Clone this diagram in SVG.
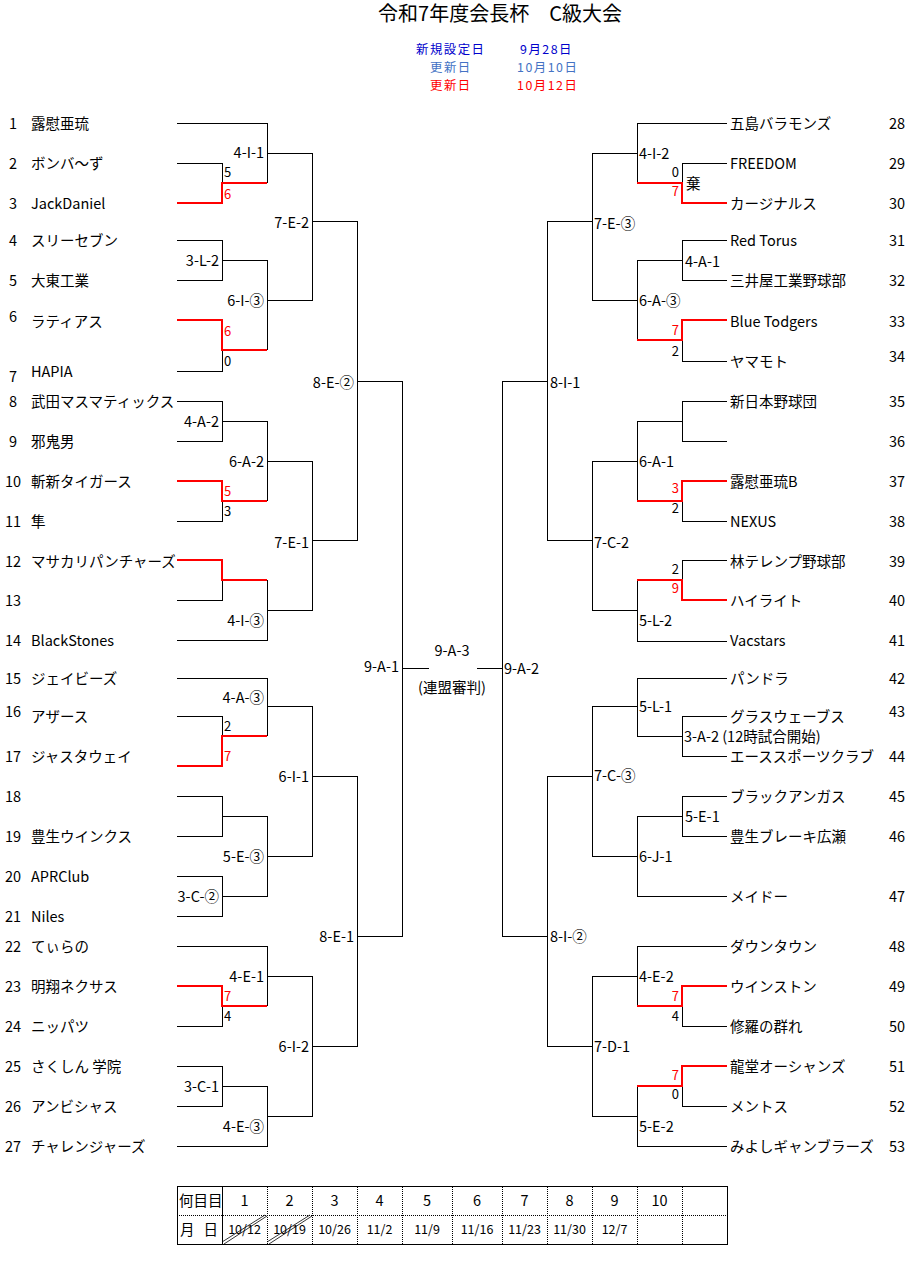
<svg xmlns="http://www.w3.org/2000/svg" width="922" height="1269" viewBox="0 0 922 1269">
<style>
text{font-family:"Noto Sans CJK JP","Noto Sans",sans-serif;font-size:14.5px;dominant-baseline:central;fill:#000;transform:translateY(-2px)}
.m{text-anchor:middle}
.e{text-anchor:end}
.red{fill:#FF0000}
.b1{fill:#0000CC}
.b2{fill:#4472C4}
.ttl{font-size:20px}
.hd{font-size:12.4px;letter-spacing:1.5px}
.dt{font-size:12.5px}
.sc{font-size:13px}
.k{fill:none;stroke:#000;stroke-width:1}
.w{fill:none;stroke:#FF0000;stroke-width:2}
.dot{fill:none;stroke:#000;stroke-width:1;stroke-dasharray:1 1}
</style>
<rect width="922" height="1269" fill="#fff"/>
<g id="header">
<text class="m ttl" x="500" y="14">令和7年度会長杯　C級大会</text>
<text class="hd b1" x="416" y="51">新規設定日</text>
<text class="hd b1" x="520" y="51">9月28日</text>
<text class="hd b2" x="430" y="69">更新日</text>
<text class="hd b2" x="517" y="69">10月10日</text>
<text class="hd red" x="430" y="87">更新日</text>
<text class="hd red" x="517" y="87">10月12日</text>
</g>
<g id="connectors" shape-rendering="crispEdges">
<path class="k" d="M177 123.5H267.5V183 M177 163.5H222.5V183 M267 153.5H312.5 M177 240.5H222.5V280.5H177 M222 260.5H267.5V350 M222.5 350V371.5H177 M267 300.5H312.5 M312.5 153V300.5 M312 221.5H357.5 M177 401.5H222.5V441.5H177 M222 421.5H267.5V501 M222.5 501V521.5H177 M267 461.5H312.5V610.5 M222.5 580V600.5H177 M267.5 580V640.5H177 M267 610.5H312 M312 540.5H357.5 M357.5 221V540.5 M357 381.5H402.5V936.5 M402 668.5H429"/>
<path class="k" d="M177 678.5H267.5V736 M177 716.5H222.5V736 M267 706.5H312.5V856.5 M177 796.5H222.5V836.5H177 M222 816.5H267.5V896.5 M177 876.5H222.5V916.5H177 M222 896.5H267.5 M267 856.5H312 M312 776.5H357.5V1046.5 M357 936.5H402 M177 946.5H267.5V1006 M222.5 1006V1026.5H177 M267 976.5H312.5V1116.5 M177 1066.5H222.5V1106.5H177 M222 1086.5H267.5V1146.5H177 M267 1116.5H312 M312 1046.5H357"/>
<path class="w" d="M177 203H222V183H267 M177 320H222V350H267 M177 481H222V501H267 M177 560H222V580H267 M177 766H222V736H267 M177 986H222V1006H267"/>
<path class="k" d="M477 668.5H502.5 M502.5 381V936.5 M502 381.5H547.5 M547.5 221V540.5 M547 540.5H592 M547 221.5H592.5 M592.5 153V300.5 M592 300.5H637 M592 153.5H637 M727 123.5H637.5V183 M682.5 183V163.5H727 M727 240.5H682.5V280.5H727 M682 260.5H637.5V340 M682.5 340V361.5H727 M727 401.5H682.5V441.5H727 M682 421.5H637.5V501 M682.5 501V521.5H727 M592 461.5H637 M592.5 461V610.5 M727 560.5H682.5V580 M637.5 580V641.5H727 M592 610.5H637"/>
<path class="k" d="M502 936.5H547.5V776.5H592 M547.5 936V1046.5H592 M592.5 706V856.5 M592 706.5H637 M727 678.5H637.5V736 M727 716.5H682.5V756.5H727 M682 736.5H637 M727 796.5H682.5V836.5H727 M682 816.5H637.5V896.5H727 M592 856.5H637 M592.5 976V1116.5 M592 976.5H637 M727 946.5H637.5V1006 M682.5 1006V1026.5H727 M682.5 1086V1106.5H727 M637.5 1086V1146.5H727 M592 1116.5H637"/>
<path class="w" d="M727 203H682V183H637 M727 320H682V340H637 M727 481H682V501H637 M727 600H682V580H637 M727 986H682V1006H637 M727 1066H682V1086H637"/>
</g>
<g id="scores">
<text class="sc" x="224" y="173">5</text><text class="sc red" x="224" y="195">6</text>
<text class="sc red" x="224" y="332">6</text><text class="sc" x="224" y="362">0</text>
<text class="sc red" x="224" y="492">5</text><text class="sc" x="224" y="512">3</text>
<text class="sc" x="224" y="727">2</text><text class="sc red" x="224" y="757">7</text>
<text class="sc red" x="224" y="997">7</text><text class="sc" x="224" y="1017">4</text>
<text class="sc e" x="679" y="173">0</text><text class="sc e red" x="679" y="192">7</text><text x="686" y="184">棄</text>
<text class="sc e red" x="679" y="331">7</text><text class="sc e" x="679" y="352">2</text>
<text class="sc e red" x="679" y="489">3</text><text class="sc e" x="679" y="509">2</text>
<text class="sc e" x="679" y="570">2</text><text class="sc e red" x="679" y="589">9</text>
<text class="sc e red" x="679" y="997">7</text><text class="sc e" x="679" y="1017">4</text>
<text class="sc e red" x="679" y="1076">7</text><text class="sc e" x="679" y="1095">0</text>
</g>
<g id="match-labels">
<text class="e" x="264" y="153">4-I-1</text>
<text class="e" x="309" y="223">7-E-2</text>
<text class="e" x="354" y="383">8-E-②</text>
<text class="e" x="219" y="261">3-L-2</text>
<text class="e" x="264" y="301">6-I-③</text>
<text class="e" x="219" y="422">4-A-2</text>
<text class="e" x="264" y="462">6-A-2</text>
<text class="e" x="309" y="543">7-E-1</text>
<text class="e" x="264" y="621">4-I-③</text>
<text class="e" x="264" y="698">4-A-③</text>
<text class="e" x="309" y="777">6-I-1</text>
<text class="e" x="264" y="857">5-E-③</text>
<text class="e" x="219" y="897">3-C-②</text>
<text class="e" x="399" y="667">9-A-1</text>
<text class="e" x="354" y="937">8-E-1</text>
<text class="e" x="264" y="977">4-E-1</text>
<text class="e" x="309" y="1047">6-I-2</text>
<text class="e" x="219" y="1087">3-C-1</text>
<text class="e" x="264" y="1127">4-E-③</text>
<text x="639" y="154">4-I-2</text>
<text x="594" y="224">7-E-③</text>
<text x="685" y="262">4-A-1</text>
<text x="639" y="301">6-A-③</text>
<text x="550" y="383">8-I-1</text>
<text x="639" y="462">6-A-1</text>
<text x="594" y="543">7-C-2</text>
<text x="639" y="621">5-L-2</text>
<text x="504" y="669">9-A-2</text>
<text x="639" y="707">5-L-1</text>
<text x="684" y="737">3-A-2 (12時試合開始)</text>
<text x="594" y="776">7-C-③</text>
<text x="685" y="817">5-E-1</text>
<text x="639" y="857">6-J-1</text>
<text x="550" y="937">8-I-②</text>
<text x="639" y="977">4-E-2</text>
<text x="594" y="1047">7-D-1</text>
<text x="639" y="1127">5-E-2</text>
<text class="m" x="452" y="651">9-A-3</text>
<text class="m" x="452" y="688">(連盟審判)</text>
</g>
<g id="t1"><text class="m" x="13" y="124">1</text><text x="31" y="124">露慰亜琉</text></g>
<g id="t2"><text class="m" x="13" y="164">2</text><text x="31" y="164">ボンバ～ず</text></g>
<g id="t3"><text class="m" x="13" y="204">3</text><text x="31" y="204">JackDaniel</text></g>
<g id="t4"><text class="m" x="13" y="241">4</text><text x="31" y="241">スリーセブン</text></g>
<g id="t5"><text class="m" x="13" y="281">5</text><text x="31" y="281">大東工業</text></g>
<g id="t6"><text class="m" x="13" y="317">6</text><text x="31" y="322">ラティアス</text></g>
<g id="t7"><text class="m" x="13" y="377">7</text><text x="31" y="372">HAPIA</text></g>
<g id="t8"><text class="m" x="13" y="402">8</text><text x="31" y="402">武田マスマティックス</text></g>
<g id="t9"><text class="m" x="13" y="442">9</text><text x="31" y="442">邪鬼男</text></g>
<g id="t10"><text class="m" x="13" y="482">10</text><text x="31" y="482">斬新タイガース</text></g>
<g id="t11"><text class="m" x="13" y="522">11</text><text x="31" y="522">隼</text></g>
<g id="t12"><text class="m" x="13" y="562">12</text><text x="31" y="562">マサカリパンチャーズ</text></g>
<g id="t13"><text class="m" x="13" y="601">13</text></g>
<g id="t14"><text class="m" x="13" y="641">14</text><text x="31" y="641">BlackStones</text></g>
<g id="t15"><text class="m" x="13" y="679">15</text><text x="31" y="679">ジェイビーズ</text></g>
<g id="t16"><text class="m" x="13" y="712">16</text><text x="31" y="717">アザース</text></g>
<g id="t17"><text class="m" x="13" y="757">17</text><text x="31" y="757">ジャスタウェイ</text></g>
<g id="t18"><text class="m" x="13" y="797">18</text></g>
<g id="t19"><text class="m" x="13" y="837">19</text><text x="31" y="837">豊生ウインクス</text></g>
<g id="t20"><text class="m" x="13" y="877">20</text><text x="31" y="877">APRClub</text></g>
<g id="t21"><text class="m" x="13" y="917">21</text><text x="31" y="917">Niles</text></g>
<g id="t22"><text class="m" x="13" y="947">22</text><text x="31" y="947">てぃらの</text></g>
<g id="t23"><text class="m" x="13" y="987">23</text><text x="31" y="987">明翔ネクサス</text></g>
<g id="t24"><text class="m" x="13" y="1027">24</text><text x="31" y="1027">ニッパツ</text></g>
<g id="t25"><text class="m" x="13" y="1067">25</text><text x="31" y="1067">さくしん 学院</text></g>
<g id="t26"><text class="m" x="13" y="1107">26</text><text x="31" y="1107">アンビシャス</text></g>
<g id="t27"><text class="m" x="13" y="1147">27</text><text x="31" y="1147">チャレンジャーズ</text></g>
<g id="t28"><text class="m" x="897" y="124">28</text><text x="730" y="124">五島バラモンズ</text></g>
<g id="t29"><text class="m" x="897" y="164">29</text><text x="730" y="164">FREEDOM</text></g>
<g id="t30"><text class="m" x="897" y="204">30</text><text x="730" y="204">カージナルス</text></g>
<g id="t31"><text class="m" x="897" y="241">31</text><text x="730" y="241">Red Torus</text></g>
<g id="t32"><text class="m" x="897" y="281">32</text><text x="730" y="281">三井屋工業野球部</text></g>
<g id="t33"><text class="m" x="897" y="322">33</text><text x="730" y="322">Blue Todgers</text></g>
<g id="t34"><text class="m" x="897" y="357">34</text><text x="730" y="362">ヤマモト</text></g>
<g id="t35"><text class="m" x="897" y="402">35</text><text x="730" y="402">新日本野球団</text></g>
<g id="t36"><text class="m" x="897" y="442">36</text></g>
<g id="t37"><text class="m" x="897" y="482">37</text><text x="730" y="482">露慰亜琉B</text></g>
<g id="t38"><text class="m" x="897" y="522">38</text><text x="730" y="522">NEXUS</text></g>
<g id="t39"><text class="m" x="897" y="562">39</text><text x="730" y="562">林テレンプ野球部</text></g>
<g id="t40"><text class="m" x="897" y="601">40</text><text x="730" y="601">ハイライト</text></g>
<g id="t41"><text class="m" x="897" y="641">41</text><text x="730" y="641">Vacstars</text></g>
<g id="t42"><text class="m" x="897" y="679">42</text><text x="730" y="679">パンドラ</text></g>
<g id="t43"><text class="m" x="897" y="712">43</text><text x="730" y="717">グラスウェーブス</text></g>
<g id="t44"><text class="m" x="897" y="757">44</text><text x="730" y="757">エーススポーツクラブ</text></g>
<g id="t45"><text class="m" x="897" y="797">45</text><text x="730" y="797">ブラックアンガス</text></g>
<g id="t46"><text class="m" x="897" y="837">46</text><text x="730" y="837">豊生ブレーキ広瀬</text></g>
<g id="t47"><text class="m" x="897" y="897">47</text><text x="730" y="897">メイドー</text></g>
<g id="t48"><text class="m" x="897" y="947">48</text><text x="730" y="947">ダウンタウン</text></g>
<g id="t49"><text class="m" x="897" y="987">49</text><text x="730" y="987">ウインストン</text></g>
<g id="t50"><text class="m" x="897" y="1027">50</text><text x="730" y="1027">修羅の群れ</text></g>
<g id="t51"><text class="m" x="897" y="1067">51</text><text x="730" y="1067">龍堂オーシャンズ</text></g>
<g id="t52"><text class="m" x="897" y="1107">52</text><text x="730" y="1107">メントス</text></g>
<g id="t53"><text class="m" x="897" y="1147">53</text><text x="730" y="1147">みよしギャンブラーズ</text></g>
<g id="schedule">
<rect x="177.5" y="1186.5" width="550" height="58" fill="none" stroke="#000"/>
<path d="M222.5 1186V1245" stroke="#000" fill="none"/>
<path class="dot" d="M177 1215.5H727 M267.5 1187V1244 M312.5 1187V1244 M357.5 1187V1244 M402.5 1187V1244 M452.5 1187V1244 M502.5 1187V1244 M547.5 1187V1244 M592.5 1187V1244 M637.5 1187V1244 M682.5 1187V1244"/>
<path d="M224 1244L267 1216 M222 1242L265 1215 M269 1244L312 1216 M267 1242L310 1215" stroke="#000" stroke-width="0.8" fill="none"/>
<text x="179" y="1201">何目目</text>
<text x="180" y="1230">月</text>
<text class="e" x="218" y="1230">日</text>
<text class="m" x="244.5" y="1201">1</text>
<text class="m" x="289.5" y="1201">2</text>
<text class="m" x="334.5" y="1201">3</text>
<text class="m" x="379.5" y="1201">4</text>
<text class="m" x="427" y="1201">5</text>
<text class="m" x="477" y="1201">6</text>
<text class="m" x="524.5" y="1201">7</text>
<text class="m" x="569.5" y="1201">8</text>
<text class="m" x="614.5" y="1201">9</text>
<text class="m" x="659.5" y="1201">10</text>
<text class="m dt" x="244.5" y="1230">10/12</text>
<text class="m dt" x="289.5" y="1230">10/19</text>
<text class="m dt" x="334.5" y="1230">10/26</text>
<text class="m dt" x="379.5" y="1230">11/2</text>
<text class="m dt" x="427" y="1230">11/9</text>
<text class="m dt" x="477" y="1230">11/16</text>
<text class="m dt" x="524.5" y="1230">11/23</text>
<text class="m dt" x="569.5" y="1230">11/30</text>
<text class="m dt" x="614.5" y="1230">12/7</text>
</g>
</svg>
